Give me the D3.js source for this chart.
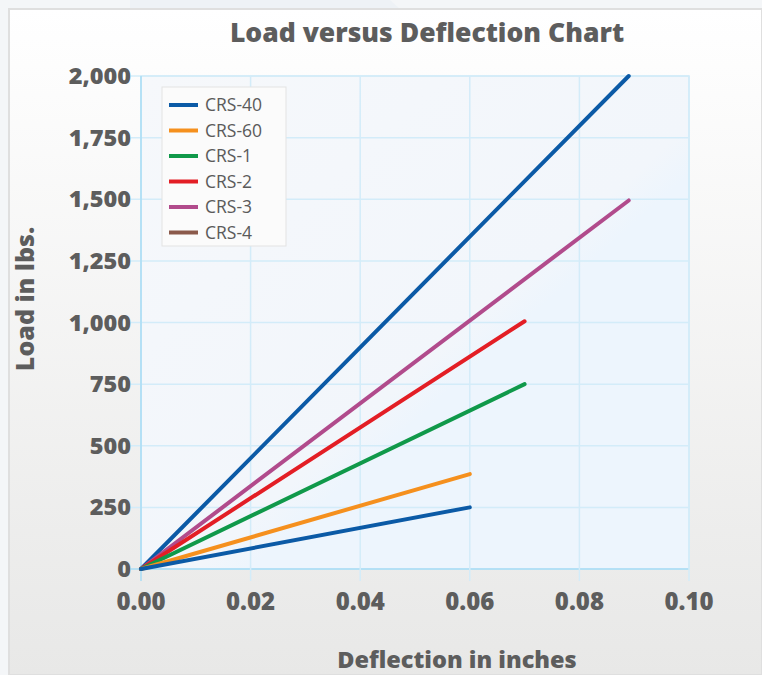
<!DOCTYPE html>
<html>
<head>
<meta charset="utf-8">
<script src="https://cdn.jsdelivr.net/npm/d3@7"></script>
<style>
  body { margin: 0; background: #f4f6f8; }
  svg { display: block; }
</style>
</head>
<body>
<script>
// series data (deflection in inches, load in lbs)
const seriesNames = ["CRS-40", "CRS-60", "CRS-1", "CRS-2", "CRS-3", "CRS-4"];
const seriesColors = ["#0b5aa6", "#f5901e", "#10994a", "#e31e25", "#b14b8c", "#8b5a4b"];
const deflections = [
    [0, 0.060],
    [0, 0.060],
    [0, 0.070],
    [0, 0.070],
    [0, 0.089],
    [0, 0]
];
const loads = [
    [0, 250],
    [0, 385],
    [0, 750],
    [0, 1005],
    [0, 1495],
    [0, 0]
];
// the steepest line is drawn in the CRS-40 blue in the original
const extraDeflection = [0, 0.089];
const extraLoad = [0, 2000];

const xTicks = [0, 0.02, 0.04, 0.06, 0.08, 0.10];
const yTicks = [0, 250, 500, 750, 1000, 1250, 1500, 1750, 2000];

const width = 762, height = 675;
const margin = {left: 141, right: 73, top: 76, bottom: 102};
const grey = "#5d5d5d";
const font = "'Open Sans', sans-serif";

const svg = d3.select("body").append("svg")
    .attr("width", width)
    .attr("height", height);

const defs = svg.append("defs");
const bg = defs.append("linearGradient").attr("id", "bg")
    .attr("x1", 0).attr("y1", 0).attr("x2", 0).attr("y2", 1);
bg.append("stop").attr("offset", "0%").attr("stop-color", "#ffffff");
bg.append("stop").attr("offset", "100%").attr("stop-color", "#e8e8e7");

const plotBg = defs.append("linearGradient").attr("id", "plotBg")
    .attr("x1", 0).attr("y1", 0).attr("x2", 1).attr("y2", 1);
plotBg.append("stop").attr("offset", "0%").attr("stop-color", "#f6f8fb");
plotBg.append("stop").attr("offset", "55%").attr("stop-color", "#f2f6fb");
plotBg.append("stop").attr("offset", "60%").attr("stop-color", "#edf5fd");
plotBg.append("stop").attr("offset", "100%").attr("stop-color", "#edf5fd");

// outer frame
svg.append("path")
    .attr("d", "M130,0 L390,0 L400,9 L130,9 Z")
    .attr("fill", "#eef2f6");
svg.append("rect")
    .attr("x", 9).attr("y", 9)
    .attr("width", width - 9).attr("height", height - 9)
    .attr("fill", "url(#bg)")
    .attr("stroke", "#dfdfdf")
    .attr("stroke-width", 2);

const x = d3.scaleLinear()
    .domain([0, 0.1])
    .range([margin.left, width - margin.right]);

const y = d3.scaleLinear()
    .domain([0, 2000])
    .range([height - margin.bottom - 4, margin.top]);

// plot area
svg.append("rect")
    .attr("x", x(0)).attr("y", y(2000))
    .attr("width", x(0.1) - x(0)).attr("height", y(0) - y(2000))
    .attr("fill", "url(#plotBg)")
    .attr("stroke", "#cfe9f8")
    .attr("stroke-width", 1.5);

// grid
svg.append("g")
    .selectAll("line")
    .data(yTicks)
    .join("line")
    .attr("x1", x(0) - 10)
    .attr("x2", x(0.1))
    .attr("y1", d => y(d))
    .attr("y2", d => y(d))
    .attr("stroke", d => d === 0 ? "#a9dcf4" : "#d3ecf9")
    .attr("stroke-width", 1.5);

svg.append("g")
    .selectAll("line")
    .data(xTicks)
    .join("line")
    .attr("x1", d => x(d))
    .attr("x2", d => x(d))
    .attr("y1", y(2000))
    .attr("y2", y(0) + 12)
    .attr("stroke", d => d === 0 ? "#a9dcf4" : "#d3ecf9")
    .attr("stroke-width", 1.5);

// tick labels
svg.append("g")
    .selectAll("text")
    .data(yTicks)
    .join("text")
    .attr("x", x(0) - 10)
    .attr("y", d => y(d) + 8)
    .attr("text-anchor", "end")
    .attr("font-family", font)
    .attr("font-weight", 800)
    .attr("font-size", 23.5)
    .attr("fill", grey)
    .text(d => d3.format(",")(d));

svg.append("g")
    .selectAll("text")
    .data(xTicks)
    .join("text")
    .attr("x", d => x(d))
    .attr("y", y(0) + 41)
    .attr("text-anchor", "middle")
    .attr("font-family", font)
    .attr("font-weight", 800)
    .attr("font-size", 24)
    .attr("fill", grey)
    .text(d => d.toFixed(2));

// titles
svg.append("text")
    .attr("x", 427).attr("y", 42)
    .attr("text-anchor", "middle")
    .attr("font-family", font)
    .attr("font-weight", 800)
    .attr("font-size", 26.5)
    .attr("fill", grey)
    .text("Load versus Deflection Chart");

svg.append("text")
    .attr("x", 457).attr("y", 668)
    .attr("text-anchor", "middle")
    .attr("font-family", font)
    .attr("font-weight", 800)
    .attr("font-size", 23.5)
    .attr("fill", grey)
    .text("Deflection in inches");

svg.append("text")
    .attr("transform", "translate(34,299) rotate(-90)")
    .attr("text-anchor", "middle")
    .attr("font-family", font)
    .attr("font-weight", 800)
    .attr("font-size", 25)
    .attr("fill", grey)
    .text("Load in lbs.");

// lines
const line = d3.line()
    .x(d => x(d[0]))
    .y(d => y(d[1]));

const series = seriesNames.map((name, i) => ({
    name: name,
    color: seriesColors[i],
    points: deflections[i].map((dx, j) => [dx, loads[i][j]])
}));
series.push({
    name: "CRS-40 upper",
    color: seriesColors[0],
    points: extraDeflection.map((dx, j) => [dx, extraLoad[j]])
});

svg.append("g")
    .selectAll("path")
    .data(series.slice().reverse())
    .join("path")
    .attr("d", d => line(d.points))
    .attr("fill", "none")
    .attr("stroke", d => d.color)
    .attr("stroke-width", 4)
    .attr("stroke-linecap", "round");

// legend
const legend = svg.append("g").attr("transform", "translate(162,87)");
legend.append("rect")
    .attr("width", 124).attr("height", 159)
    .attr("fill", "#fbfbfb")
    .attr("stroke", "#e3e3e3")
    .attr("stroke-width", 1);

const item = legend.selectAll("g")
    .data(seriesNames)
    .join("g")
    .attr("transform", (d, i) => `translate(0,${18 + i * 25.5})`);

item.append("line")
    .attr("x1", 7).attr("x2", 36)
    .attr("stroke", (d, i) => seriesColors[i])
    .attr("stroke-width", 4);

item.append("text")
    .attr("x", 43).attr("y", 6)
    .attr("font-family", font)
    .attr("font-size", 17.5)
    .attr("fill", "#5a5a5a")
    .text(d => d);
</script>
</body>
</html>
